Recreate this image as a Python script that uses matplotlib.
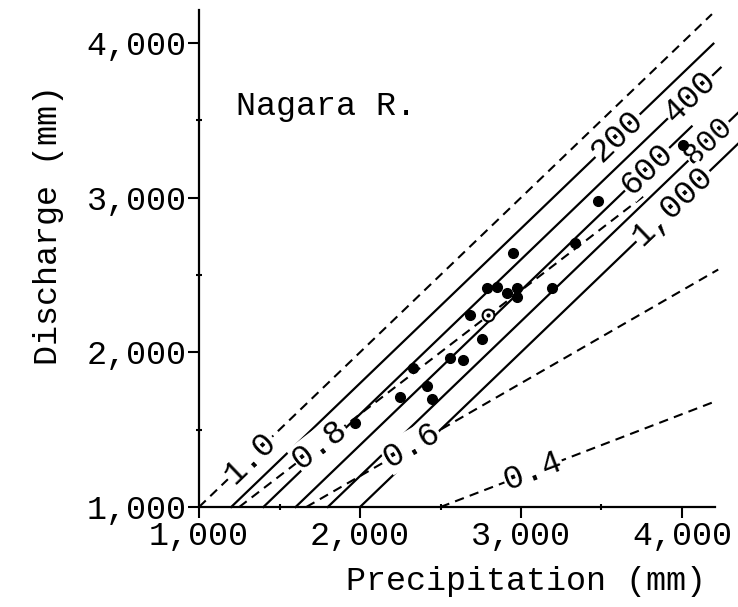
import numpy as np
import matplotlib
matplotlib.use("Agg")
import matplotlib.pyplot as plt

# ---- data ----
ratio_values = [1.0, 0.8, 0.6, 0.4]
ratio_labels = ["1.0", "0.8", "0.6", "0.4"]
ratio_end_p = [4186, 3780, 4225, 4220]
ratio_label_p = [1317, 1752, 2323, 3075]

loss_values = [200, 400, 600, 800, 1000]
loss_labels = ["200", "400", "600", "800", "1,000"]
loss_end_p = [4195, 4240, 4060, 4400, 4400]
loss_label_p = [3600, 4050, 3783, 4165, 3944]

precip = [1969, 2248, 2329, 2416, 2447, 2559, 2640, 2758, 2683, 2789,
          2851, 2913, 2975, 2975, 2950, 3193, 3335, 3478, 4006]
discharge = [1543, 1711, 1899, 1782, 1698, 1963, 1950, 2086, 2241, 2416,
             2422, 2383, 2416, 2357, 2642, 2416, 2707, 2978, 3340]
mean_precip = [2795]
mean_discharge = [2241]

major_ticks = [1000, 2000, 3000, 4000]
major_labels = ["1,000", "2,000", "3,000", "4,000"]
minor_ticks = [1500, 2500, 3500]

plt.rcParams['font.family'] = ['Liberation Mono', 'DejaVu Sans Mono']
FS = 24

fig = plt.figure(figsize=(7.38, 6.07), dpi=100)
ax = fig.add_axes([199/738, 100/607, 539/738, 507/607])
ax.set_xlim(1000, 1000 + 539/0.161)
ax.set_ylim(1000, 1000 + 507/0.1547)

for s in ['top', 'right']:
    ax.spines[s].set_visible(False)
ax.spines['left'].set_bounds(1000, 4210)
ax.spines['bottom'].set_bounds(1000, 4205)
for s in ['left', 'bottom']:
    ax.spines[s].set_linewidth(1.6)

ax.set_xticks(major_ticks)
ax.set_xticklabels(major_labels, fontsize=FS)
ax.set_yticks(major_ticks)
ax.set_yticklabels(major_labels, fontsize=FS)
ax.set_xticks(minor_ticks, minor=True)
ax.set_yticks(minor_ticks, minor=True)
ax.tick_params(axis='x', which='major', direction='out', length=8, width=1.5, pad=2)
ax.tick_params(axis='y', which='major', direction='out', length=8, width=1.5, pad=1)
ax.tick_params(which='minor', direction='inout', length=5, width=1.5)

ax.set_xlabel("Precipitation (mm)", fontsize=FS)
ax.set_ylabel("Discharge (mm)", fontsize=FS)
ax.xaxis.set_label_coords((526-199)/539, (507-566)/507)
ax.yaxis.set_label_coords((64-199)/539, (507-225)/507)

dash = (0, (4.5, 3))
# ratio (dashed) lines Q = r P
for r, pend in zip(ratio_values, ratio_end_p):
    p = np.array([1000 / r, pend])
    ax.plot(p, r * p, color='black', lw=1.5, linestyle=dash, clip_on=False, zorder=2)
# loss (solid) lines Q = P - L
for L, pend in zip(loss_values, loss_end_p):
    p = np.array([1000 + L, pend])
    ax.plot(p, p - L, color='black', lw=1.6, clip_on=False, zorder=2)

# points
ax.plot(precip, discharge, 'o', color='black', ms=7, zorder=5, clip_on=False)
ax.plot(mean_precip, mean_discharge, 'o', mfc='white', mec='black', mew=1.5, ms=8.5, zorder=6)
ax.plot(mean_precip, mean_discharge, 'o', color='black', ms=2, zorder=7)

box = dict(facecolor='white', edgecolor='none', pad=0.5)

def put_label(txt, p, q, slope, fs=FS):
    ang = ax.transData.transform_angles(np.array([np.degrees(np.arctan(slope))]),
                                        np.array([[p, q]]))[0]
    ax.text(p, q, txt, fontsize=fs, rotation=ang, rotation_mode='anchor',
            ha='center', va='center', bbox=box, zorder=4, clip_on=False)

for r, txt, p in zip(ratio_values, ratio_labels, ratio_label_p):
    put_label(txt, p, r * p, r)
for L, txt, p in zip(loss_values, loss_labels, loss_label_p):
    put_label(txt, p, p - L, 1.0, fs=(22 if txt == "800" else FS))

ax.text(1789, 3586, "Nagara R.", fontsize=FS, ha='center', va='center')

fig.savefig("out.png", dpi=100)
